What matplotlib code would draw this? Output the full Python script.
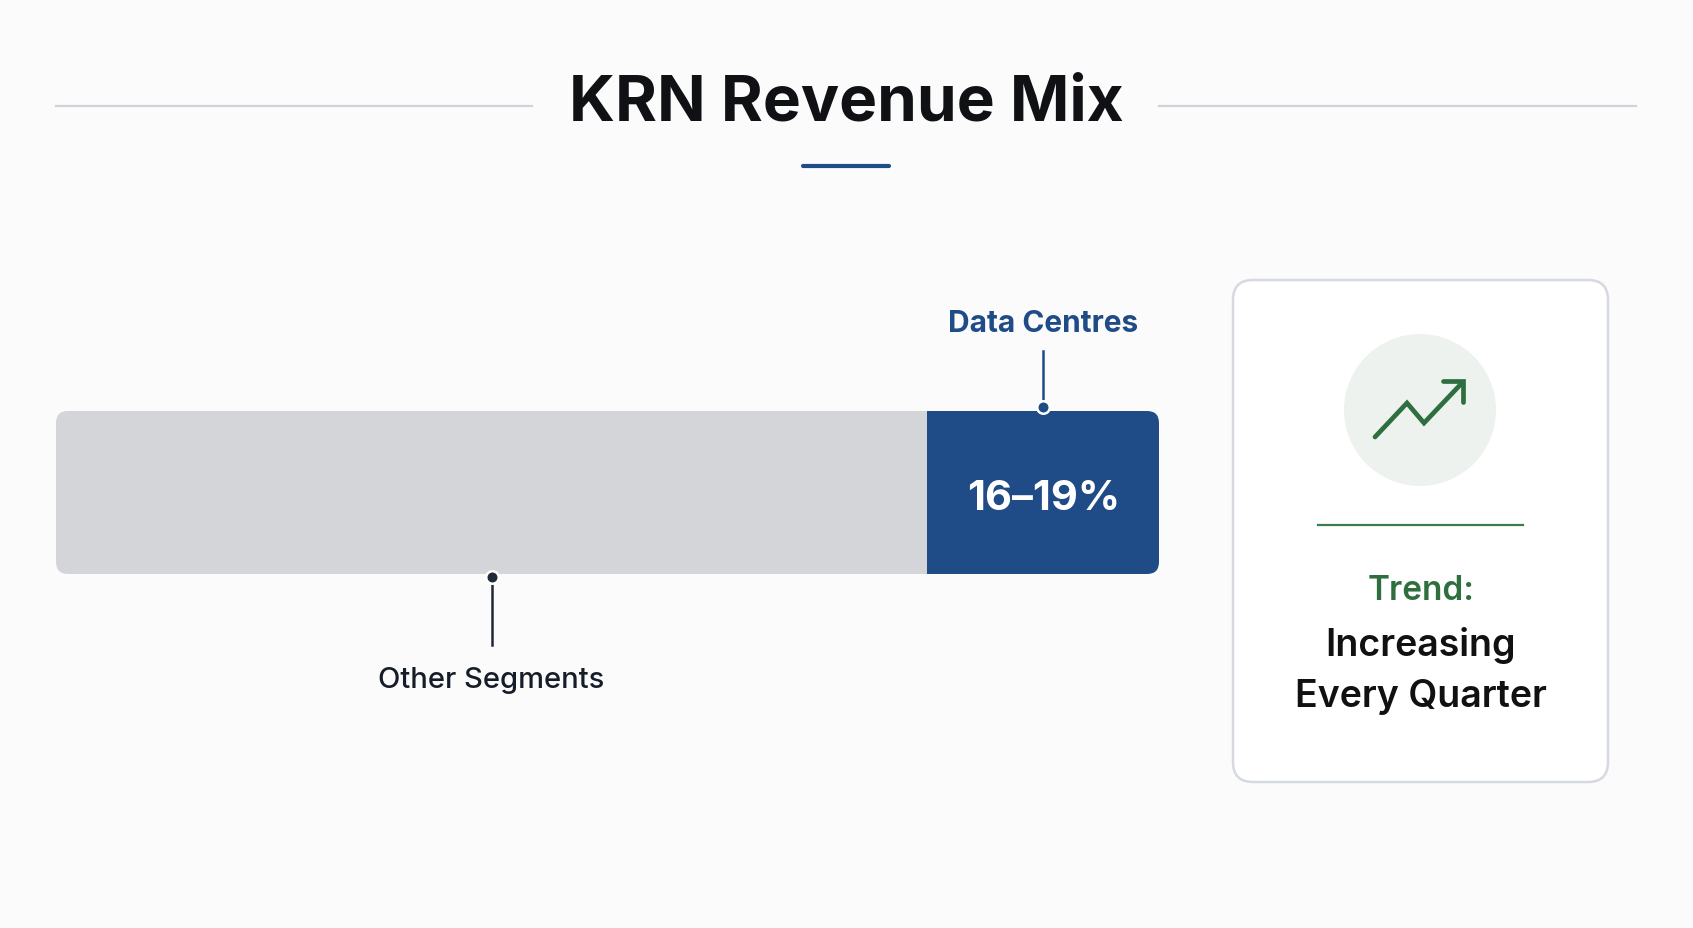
import matplotlib
matplotlib.use("Agg")
import matplotlib.pyplot as plt
from matplotlib.patches import FancyBboxPatch, Circle
from matplotlib.transforms import blended_transform_factory

plt.rcParams['font.family'] = ['Inter', 'DejaVu Sans']

# Data (share of revenue, %)
segments = ["Other Segments", "Data Centres"]
shares = [79, 21]
dc_label = "16\u201319%"
trend_head = "Trend:"
trend_lines = ["Increasing", "Every Quarter"]
title = "KRN Revenue Mix"

W, H = 1693, 929
bg = "#fbfbfc"
blue = "#1f4b87"
grey = "#d3d5d9"
navy = "#1f2937"
green = "#2f6e3f"

fig = plt.figure(figsize=(W / 100, H / 100), dpi=100, facecolor=bg)
ax = fig.add_axes([0, 0, 1, 1])
ax.set_xlim(0, W)
ax.set_ylim(H, 0)
ax.axis("off")

# Title with side rules and underline
ax.text(W / 2, 120, title, ha="center", va="baseline", fontsize=46,
        fontweight="bold", color="#0f1115")
ax.plot([56, 532], [107, 107], color="#cfd3d9", lw=1.6)
ax.plot([1159, 1636], [107, 107], color="#cfd3d9", lw=1.6)
ax.plot([803, 889], [167, 167], color=blue, lw=3, solid_capstyle="round")

# Stacked bar in its own axes
bx0, bx1, by0, by1 = 56, 1159, 412, 575
ax_bar = fig.add_axes([bx0 / W, 1 - by1 / H, (bx1 - bx0) / W, (by1 - by0) / H])
ax_bar.set_xlim(0, sum(shares))
ax_bar.set_ylim(-0.5, 0.5)
ax_bar.axis("off")
bars = ax_bar.barh(0, shares, left=[0, shares[0]], height=1,
                   color=[grey, blue], edgecolor="none")
clip = FancyBboxPatch((bx0, by0), bx1 - bx0, by1 - by0,
                      boxstyle="round,pad=0,rounding_size=12",
                      transform=ax.transData)
for b in bars:
    b.set_clip_path(clip)

mid_other = shares[0] / 2
mid_dc = shares[0] + shares[1] / 2
tr = blended_transform_factory(ax_bar.transData, ax.transData)

ax_bar.text(mid_dc, 510, dc_label, ha="center", va="baseline", fontsize=30,
            fontweight="bold", color="white", transform=tr)

# Data Centres callout (above)
ax_bar.plot([mid_dc, mid_dc], [352, 408], color=blue, lw=1.8,
            transform=tr, clip_on=False)
ax_bar.plot([mid_dc], [408], "o", ms=9, color=blue, mec="white", mew=1.8,
            transform=tr, clip_on=False)
ax_bar.text(mid_dc, 332, segments[1], ha="center", va="baseline",
            fontsize=21.5, fontweight="bold", color=blue,
            transform=tr, clip_on=False)
# Other Segments callout (below)
ax_bar.plot([mid_other, mid_other], [578, 646], color=navy, lw=1.8,
            transform=tr, clip_on=False)
ax_bar.plot([mid_other], [578], "o", ms=9, color=navy, mec="white", mew=1.8,
            transform=tr, clip_on=False)
ax_bar.text(mid_other, 688, segments[0], ha="center", va="baseline",
            fontsize=21, fontweight="medium", color="#161d29",
            transform=tr, clip_on=False)

# Trend card
card = FancyBboxPatch((1233, 281), 1608 - 1233, 783 - 281,
                      boxstyle="round,pad=0,rounding_size=20",
                      facecolor="white", edgecolor="#d5d9e0", lw=1.8)
ax.add_patch(card)
ax.add_patch(Circle((1420, 411), 76, facecolor="#edf2ee", edgecolor="none"))
ax.plot([1375, 1407, 1424, 1461], [438, 404, 424, 385], color=green, lw=3.4,
        solid_capstyle="round", solid_joinstyle="miter")
ax.plot([1443, 1463, 1463], [382, 382, 403], color=green, lw=3.4,
        solid_capstyle="round", solid_joinstyle="miter")
ax.plot([1318, 1523], [526, 526], color="#3a7d4a", lw=1.6)
ax.text(1421, 600, trend_head, ha="center", va="baseline", fontsize=24,
        fontweight="semibold", color=green)
for yb, line in zip([656, 707], trend_lines):
    ax.text(1421, yb, line, ha="center", va="baseline", fontsize=27,
            fontweight="semibold", color="#111111")

fig.savefig("out.png", dpi=100, facecolor=bg)
